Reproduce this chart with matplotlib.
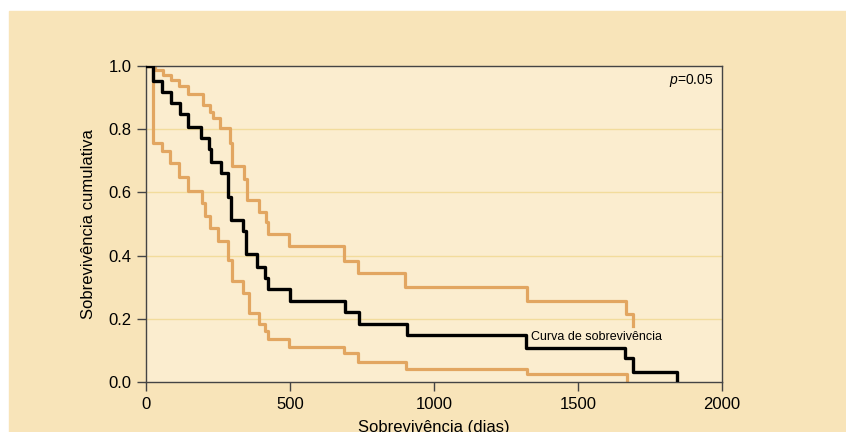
import matplotlib.pyplot as plt
from matplotlib.patches import Rectangle

plt.rcParams["font.family"] = ["Liberation Sans", "DejaVu Sans"]
plt.rcParams["mathtext.fontset"] = "custom"
plt.rcParams["mathtext.it"] = "Liberation Sans:italic"
plt.rcParams["mathtext.rm"] = "Liberation Sans"

# Kaplan-Meier estimate (days, cumulative survival)
surv_t = [0, 25, 56, 86, 118, 147, 191, 220, 226, 262, 286, 295, 338, 347,
          386, 413, 423, 500, 691, 740, 905, 1319, 1663, 1692, 1843]
surv_s = [1.0, 0.953, 0.919, 0.884, 0.847, 0.806, 0.771, 0.736, 0.697, 0.660,
          0.586, 0.513, 0.478, 0.405, 0.363, 0.330, 0.295, 0.257, 0.222,
          0.184, 0.149, 0.107, 0.075, 0.033, 0.0]

# upper confidence band
upper_t = [0, 31, 58, 86, 116, 147, 197, 222, 232, 257, 292, 297, 342, 351,
           394, 415, 425, 497, 688, 737, 901, 1322, 1667, 1692]
upper_s = [1.0, 0.987, 0.972, 0.956, 0.938, 0.910, 0.877, 0.855, 0.834, 0.805,
           0.755, 0.684, 0.642, 0.576, 0.539, 0.505, 0.468, 0.430, 0.384,
           0.344, 0.300, 0.257, 0.215, 0.178]

# lower confidence band
lower_t = [0, 23, 55, 83, 116, 145, 194, 205, 222, 251, 286, 298, 336, 359,
           393, 413, 425, 498, 688, 737, 903, 1322, 1669]
lower_s = [1.0, 0.755, 0.730, 0.692, 0.648, 0.603, 0.565, 0.524, 0.486, 0.447,
           0.386, 0.320, 0.283, 0.217, 0.184, 0.162, 0.137, 0.112, 0.091,
           0.064, 0.042, 0.025, 0.005]

x_ticks = [0, 500, 1000, 1500, 2000]
y_ticks = [0.0, 0.2, 0.4, 0.6, 0.8, 1.0]

BG = "#f8e4b9"
PANEL = "#fbedcf"
ORANGE = "#e2a661"
GRID = "#f2dc9c"

fig = plt.figure(figsize=(8.46, 4.32), dpi=100, facecolor="white")
fig.patches.append(Rectangle((9 / 846, 0), 1, (432 - 11) / 432,
                             transform=fig.transFigure, color=BG, zorder=-10))

ax = fig.add_axes([146 / 846, 50 / 432, 576 / 846, 316 / 432])
ax.set_facecolor(PANEL)

for y in y_ticks[1:-1]:
    ax.axhline(y, color=GRID, lw=1.0, zorder=1)

ax.step(upper_t, upper_s, where="post", color=ORANGE, lw=2.3, zorder=2)
ax.step(lower_t, lower_s, where="post", color=ORANGE, lw=2.3, zorder=2)
ax.step(surv_t, surv_s, where="post", color="black", lw=2.4, zorder=3)

ax.text(1338, 0.142, "Curva de sobrevivência", fontsize=9, va="center",
        ha="left", zorder=4)
ax.text(0.985, 0.955, r"$p$=0.05", transform=ax.transAxes, fontsize=10,
        ha="right", va="center")

ax.set_xlim(0, 2000)
ax.set_ylim(0, 1.0)
ax.set_xticks(x_ticks)
ax.set_yticks(y_ticks)
ax.set_yticklabels([f"{v:.1f}" for v in y_ticks])
ax.tick_params(direction="out", length=6.5, width=1, color="#444",
               labelsize=12, pad=4)

for s in ax.spines.values():
    s.set_color("#444")
    s.set_linewidth(1)

ax.set_xlabel("Sobrevivência (dias)", fontsize=12, labelpad=6)
ax.set_ylabel("Sobrevivência cumulativa", fontsize=12, labelpad=9)

fig.savefig("out.png", dpi=100, facecolor="white")
